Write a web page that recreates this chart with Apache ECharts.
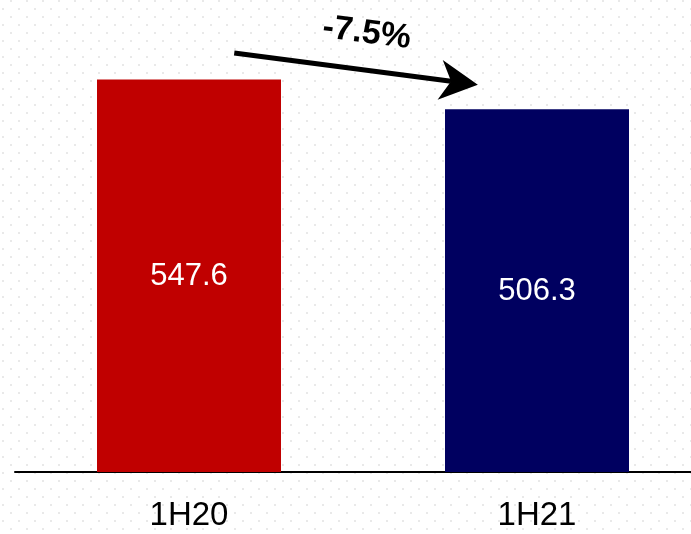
<!DOCTYPE html>
<html>
<head>
<meta charset="utf-8">
<script src="https://cdn.jsdelivr.net/npm/echarts@6/dist/echarts.min.js"></script>
<style>
  html, body { margin: 0; padding: 0; background: #fff; }
  #chart { width: 691px; height: 534px; }
</style>
</head>
<body>
<div id="chart"></div>
<script>
'use strict';

const categories = ['1H20', '1H21'];
const values = [547.6, 506.3];
const barColors = ['#c00000', '#000060'];
const changeLabel = '-7.5%';

// dotted paper background
function dotPattern() {
    let c = document.createElement('canvas');
    c.width = 16;
    c.height = 16;
    let ctx = c.getContext('2d');
    ctx.fillStyle = '#fff';
    ctx.fillRect(0, 0, 16, 16);
    ctx.fillStyle = '#e9e9e9';
    ctx.fillRect(2, 8, 2, 2);
    ctx.fillRect(10, 0, 2, 2);
    return c;
}

let myChart = echarts.init(document.getElementById('chart'));

myChart.setOption({
    animation: false,
    backgroundColor: { image: dotPattern(), repeat: 'repeat' },
    grid: { left: 15, top: 42, width: 696, bottom: 62, outerBoundsMode: 'none' },
    xAxis: {
        type: 'category',
        data: categories,
        axisLine: { lineStyle: { color: '#000', width: 2 } },
        axisTick: { show: false },
        axisLabel: {
            color: '#000',
            fontSize: 33,
            fontFamily: 'Liberation Sans',
            margin: 27
        }
    },
    yAxis: {
        type: 'value',
        min: 0,
        max: 600,
        show: false,
        splitLine: { show: false }
    },
    series: [{
        type: 'bar',
        barWidth: 184,
        data: values.map(function (v, i) {
            return { value: v, itemStyle: { color: barColors[i] } };
        }),
        label: {
            show: true,
            position: 'inside',
            color: '#fff',
            fontSize: 31,
            fontFamily: 'Liberation Sans',
            offset: [0, 1]
        }
    }]
});

// arrow between the two bars, placed from data positions
function drawArrow() {
    let p0 = myChart.convertToPixel({ gridIndex: 0 }, [0, 0]);
    let p1 = myChart.convertToPixel({ gridIndex: 0 }, [1, 0]);
    let dx = p1[0] - p0[0];
    let x0 = p0[0] + dx * 0.13;
    let x1 = p1[0] - dx * 0.17;
    let y0 = myChart.convertToPixel({ gridIndex: 0 }, [0, values[0] + 37])[1];
    let y1 = myChart.convertToPixel({ gridIndex: 0 }, [1, values[1] + 34])[1];

    let ang = Math.atan2(y1 - y0, x1 - x0);
    let cos = Math.cos(ang), sin = Math.sin(ang);
    function rot(px, py) {
        return [x1 + px * cos - py * sin, y1 + px * sin + py * cos];
    }
    let head = [rot(0, 0), rot(-38, -20), rot(-27, 0), rot(-38, 20)];
    let lineEnd = rot(-27, 0);

    let mx = (x0 + x1) / 2, my = (y0 + y1) / 2;
    let tx = mx + 36 * sin + 6, ty = my - 36 * cos;

    myChart.setOption({
        graphic: [
            {
                type: 'line',
                shape: { x1: x0, y1: y0, x2: lineEnd[0], y2: lineEnd[1] },
                style: { stroke: '#000', lineWidth: 5 }
            },
            {
                type: 'polygon',
                shape: { points: head },
                style: { fill: '#000' }
            },
            {
                type: 'text',
                x: tx,
                y: ty,
                rotation: -ang,
                style: {
                    text: changeLabel,
                    fill: '#000',
                    font: 'bold 34px "Liberation Sans"',
                    align: 'center',
                    verticalAlign: 'middle'
                }
            }
        ]
    });
}

drawArrow();
</script>
</body>
</html>
